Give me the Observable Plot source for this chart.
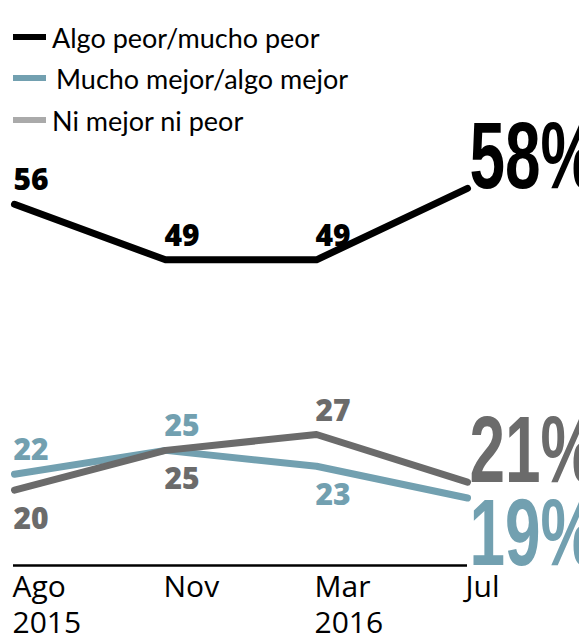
<!DOCTYPE html>
<html><head><meta charset="utf-8">
<script src="https://cdn.jsdelivr.net/npm/d3@7"></script>
<script src="https://cdn.jsdelivr.net/npm/@observablehq/plot@0.6"></script>
<style>
body{margin:0;background:#fff;overflow:hidden;}
#wrap{position:relative;width:579px;height:635px;overflow:hidden;}
#legend{position:absolute;left:0;top:0;font-family:Lato,"Open Sans",sans-serif;font-size:27px;color:#000;}
.row{position:absolute;left:13px;height:30px;display:flex;align-items:center;white-space:nowrap;}
.sw{width:33px;height:6px;margin-right:6px;}
</style></head>
<body><div id="wrap"><div id="chart"></div><div id="legend"></div></div>
<script>
// Data
const periods = ["Ago 2015", "Nov", "Mar 2016", "Jul"];
const seriesNames = ["Algo peor/mucho peor", "Mucho mejor/algo mejor", "Ni mejor ni peor"];
const peor = [56, 49, 49, 58];
const mejor = [22, 25, 23, 19];
const igual = [20, 25, 27, 21];
const baseline = 10.5;

const colors = {peor: "#000000", mejor: "#72a0b0", igual: "#6b6b6b"};
const legendColors = {peor: "#000000", mejor: "#72a0b0", igual: "#aaaaaa"};

const seriesList = [
  {key: "mejor", name: seriesNames[1], values: mejor},
  {key: "igual", name: seriesNames[2], values: igual},
  {key: "peor", name: seriesNames[0], values: peor}
];

const rows = [];
seriesList.forEach(s => s.values.forEach((v, i) => {
  let above = true;
  if (s.key === "mejor") above = mejor[i] >= igual[i];
  if (s.key === "igual") above = igual[i] > mejor[i];
  rows.push({key: s.key, series: s.name, period: periods[i], value: v, i, last: i === periods.length - 1, above});
}));

const last = rows.filter(d => d.last);
const inner = rows.filter(d => !d.last);

const bigFont = {fontFamily: "'Liberation Sans',Arial,sans-serif", fontWeight: "bold", fontSize: 94, textAnchor: "start", lineAnchor: "bottom", dx: 2};
const valFont = {fontFamily: "'Open Sans',Lato,sans-serif", fontWeight: 800, fontSize: 30, textAnchor: "start", lineAnchor: "bottom", dx: -1};

const chart = Plot.plot({
  width: 579,
  height: 635,
  marginLeft: 13,
  marginRight: 112,
  marginTop: 172,
  marginBottom: 70,
  x: {type: "point", domain: periods, padding: 0},
  y: {domain: [baseline, 60], axis: null},
  marks: [
    Plot.ruleY([baseline], {stroke: "#000", strokeWidth: 2.5}),
    Plot.axisX({tickSize: 0, tickPadding: 6, textAnchor: "start", fontSize: 30, lineHeight: 1.2,
      fontFamily: "'Open Sans',Lato,sans-serif", tickFormat: d => d.replace(" ", "\n"), label: null, dx: -2}),
    Plot.line(rows, {x: "period", y: "value", z: "key", stroke: d => colors[d.key], strokeWidth: 7,
      strokeLinecap: "round", strokeLinejoin: "round"}),
    Plot.text(inner.filter(d => d.above), {x: "period", y: "value", text: d => String(d.value),
      fill: d => colors[d.key], ...valFont, dy: -14}),
    Plot.text(inner.filter(d => !d.above), {x: "period", y: "value", text: d => String(d.value),
      fill: d => colors[d.key], ...valFont, dy: 39}),
    Plot.text(last.filter(d => d.key !== "mejor"), {x: "period", y: "value", text: d => d.value + "%",
      fill: d => colors[d.key], ...bigFont, dy: 0}),
    Plot.text(last.filter(d => d.key === "mejor"), {x: "period", y: "value", text: d => d.value + "%",
      fill: d => colors[d.key], ...bigFont, dy: 67})
  ]
});
document.getElementById("chart").appendChild(chart);

// condense the big end labels horizontally
d3.select(chart).selectAll('g[font-size="94"] text').each(function() {
  const t = d3.select(this);
  const tr = t.attr("transform");
  const sx = 0.68;
  if (tr) t.attr("transform", tr + ` scale(${sx},1)`);
  else {
    const x = +t.attr("x") || 0, y = +t.attr("y") || 0;
    t.attr("transform", `translate(${x},${y}) scale(${sx},1) translate(${-x},${-y})`);
  }
});

// Legend
const legend = document.getElementById("legend");
const legendItems = [
  {key: "peor", name: seriesNames[0], center: 37, gap: 6},
  {key: "mejor", name: seriesNames[1], center: 78, gap: 10},
  {key: "igual", name: seriesNames[2], center: 120, gap: 6}
];
legendItems.forEach(it => {
  const row = document.createElement("div");
  row.className = "row";
  row.style.top = (it.center - 15) + "px";
  const sw = document.createElement("div");
  sw.className = "sw";
  sw.style.background = legendColors[it.key];
  sw.style.marginRight = it.gap + "px";
  const tx = document.createElement("span");
  tx.textContent = it.name;
  row.appendChild(sw);
  row.appendChild(tx);
  legend.appendChild(row);
});
</script>
</body></html>
